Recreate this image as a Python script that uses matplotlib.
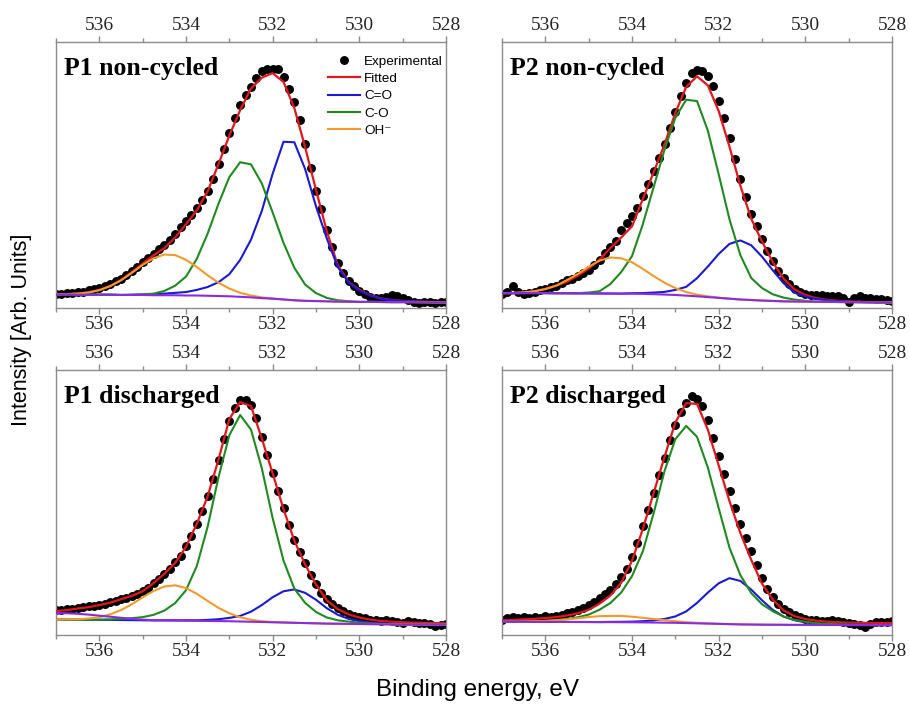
import numpy as np
import matplotlib.pyplot as plt
from matplotlib.ticker import MultipleLocator

# binding energy grids (eV), high -> low
energy = np.arange(537.0, 527.99, -0.25)      # fitted curves
energy_exp = np.arange(537.0, 527.99, -0.125)  # measured points

# ---- P1 non-cycled ----
p1_nc_exp = [5.2, 5.4, 5.6, 5.5, 5.9, 6.0, 6.6, 7.2, 7.6, 8.2,
             8.9, 10.0, 11.0, 12.4, 14.0, 15.6, 17.2, 18.8, 20.4, 22.0,
             23.6, 25.6, 28.0, 30.4, 32.8, 35.0, 37.6, 40.5, 44.0, 48.6,
             54.0, 59.8, 65.8, 71.5, 76.2, 80.0, 83.0, 86.4, 89.0, 89.9,
             90.0, 89.8, 87.0, 82.5, 77.5, 70.8, 61.5, 52.8, 44.0, 37.2,
             29.5, 22.8, 17.0, 13.0, 10.0, 8.2, 6.4, 5.3, 4.3, 3.7,
             3.6, 4.2, 4.8, 4.6, 3.9, 3.0, 2.4, 2.0, 2.1, 2.4,
             2.0, 2.3, 2.4]
p1_nc_fit = [5.0, 5.2, 5.5, 5.9, 6.8, 8.3, 10.5, 13.5, 16.7, 19.8, 22.5, 26.5, 31.5,
             36.7, 43.9, 54.1, 64.8, 74.4, 82.5, 86.6, 88.3, 85.0, 75.2, 60.4, 44.4,
             28.8, 16.2, 9.8, 6.9, 4.8, 3.6, 3.0, 2.7, 2.5, 2.35, 2.25, 2.2]
p1_nc_ceq = [5.1, 5.1, 5.0, 5.0, 5.0, 5.0, 4.9, 5.0, 5.1, 5.2, 5.4, 5.7, 6.0,
             6.8, 7.9, 9.7, 12.7, 18.1, 25.7, 36.5, 50.5, 62.5, 62.3, 52.2, 38.2,
             26.1, 15.5, 9.6, 6.6, 4.6, 3.5, 2.9, 2.6, 2.45, 2.3, 2.2, 2.15]
p1_nc_co = [5.1, 5.1, 5.0, 5.0, 5.0, 5.0, 4.9, 4.9, 5.1, 5.4, 6.4, 8.4, 11.8,
            18.5, 28.0, 39.2, 49.2, 54.8, 54.0, 46.8, 35.9, 24.5, 15.1, 8.8, 5.6,
            3.8, 2.9, 2.55, 2.3, 2.3, 2.25, 2.2, 2.2, 2.2, 2.15, 2.1, 2.1]
p1_nc_oh = [5.2, 5.2, 5.4, 5.8, 6.7, 8.2, 10.4, 13.2, 16.2, 18.7, 20.1, 19.9, 18.1,
            15.4, 12.3, 9.5, 7.3, 5.7, 4.7, 4.0, 3.6, 3.2, 2.9, 2.7, 2.6,
            2.5, 2.4, 2.35, 2.3, 2.3, 2.25, 2.2, 2.2, 2.2, 2.15, 2.1, 2.1]
p1_nc_bg = [5.1, 5.1, 5.0, 5.0, 5.0, 5.0, 4.9, 4.9, 4.9, 4.8, 4.8, 4.8, 4.7,
            4.7, 4.6, 4.5, 4.4, 4.2, 4.0, 3.7, 3.5, 3.2, 2.9, 2.7, 2.6,
            2.5, 2.4, 2.35, 2.3, 2.3, 2.25, 2.2, 2.2, 2.2, 2.15, 2.1, 2.1]

# ---- P2 non-cycled ----
p2_nc_exp = [5.3, 6.2, 8.3, 6.0, 5.3, 5.7, 6.2, 6.6, 7.2, 7.8,
             8.2, 9.4, 10.4, 11.0, 12.0, 13.2, 14.4, 16.2, 18.0, 20.6,
             22.8, 25.3, 29.5, 32.0, 34.5, 37.5, 42.0, 46.5, 51.5, 56.4,
             61.5, 67.8, 73.8, 79.6, 84.6, 88.4, 89.6, 89.0, 87.4, 83.3,
             78.0, 71.4, 64.0, 56.0, 48.5, 41.9, 35.5, 31.0, 26.0, 21.3,
             17.5, 14.0, 11.3, 9.0, 7.3, 6.2, 5.4, 5.0, 4.9, 4.8,
             4.4, 4.6, 4.4, 3.6, 2.2, 3.7, 4.6, 3.8, 3.7, 3.5,
             3.4, 3.0, 2.6]
p2_nc_fit = [5.5, 5.55, 5.65, 6.3, 7.2, 8.4, 9.9, 12.2, 14.8, 18.2, 22.5, 26.5, 30.7,
             41.0, 51.0, 61.5, 73.3, 83.1, 87.1, 83.7, 74.1, 60.6, 46.0, 33.6, 25.0,
             17.2, 11.0, 7.0, 4.9, 3.7, 3.1, 2.7, 2.5, 2.3, 2.2, 2.15, 2.1]
p2_nc_ceq = [5.6, 5.6, 5.6, 5.6, 5.6, 5.55, 5.55, 5.5, 5.5, 5.45, 5.45, 5.4, 5.55,
             5.6, 5.8, 6.05, 6.8, 7.95, 11.2, 15.6, 20.3, 24.1, 25.4, 23.6, 19.3,
             14.15, 9.3, 5.75, 4.3, 3.35, 2.9, 2.55, 2.35, 2.2, 2.15, 2.1, 2.1]
p2_nc_co = [5.6, 5.6, 5.6, 5.6, 5.6, 5.55, 5.55, 5.6, 5.8, 6.3, 9.0, 13.5, 19.5,
            31.5, 45.5, 59.5, 71.5, 78.3, 77.8, 66.7, 50.3, 33.3, 19.9, 11.3, 7.5,
            5.15, 3.9, 3.15, 2.7, 2.35, 2.3, 2.25, 2.2, 2.2, 2.15, 2.1, 2.1]
p2_nc_oh = [5.6, 5.7, 5.9, 6.3, 7.1, 8.4, 10.5, 12.8, 15.5, 17.8, 19.0, 18.7, 17.2,
            14.7, 12.0, 9.5, 7.5, 6.0, 5.0, 4.4, 3.9, 3.5, 3.2, 3.0, 2.8,
            2.65, 2.5, 2.45, 2.4, 2.35, 2.3, 2.25, 2.2, 2.2, 2.15, 2.1, 2.1]
p2_nc_bg = [5.6, 5.6, 5.6, 5.6, 5.6, 5.55, 5.55, 5.5, 5.5, 5.45, 5.45, 5.4, 5.4,
            5.3, 5.2, 5.05, 4.9, 4.65, 4.4, 4.1, 3.8, 3.5, 3.2, 3.0, 2.8,
            2.65, 2.5, 2.45, 2.4, 2.35, 2.3, 2.25, 2.2, 2.2, 2.15, 2.1, 2.1]

# ---- P1 discharged ----
p1_dc_exp = [9.4, 9.6, 9.8, 10.0, 10.2, 10.5, 10.8, 11.0, 11.5, 11.8,
             12.4, 13.0, 13.5, 14.0, 14.7, 15.5, 16.6, 17.8, 19.5, 21.3,
             23.2, 25.0, 27.5, 30.0, 33.5, 37.3, 41.8, 46.8, 52.5, 58.8,
             66.0, 73.8, 80.8, 85.7, 88.5, 88.8, 86.8, 81.8, 74.8, 67.8,
             61.2, 54.5, 47.9, 41.5, 35.8, 31.2, 27.0, 22.5, 19.2, 16.0,
             13.6, 11.6, 10.3, 9.0, 8.1, 7.3, 6.8, 6.5, 5.6, 5.8,
             5.2, 5.6, 5.3, 4.8, 4.7, 5.1, 4.9, 4.4, 4.6, 4.0,
             3.4, 3.6, 4.2]
p1_dc_fit = [9.0, 9.4, 10.0, 10.5, 11.3, 12.2, 13.5, 14.8, 16.5, 19.6, 23.1, 27.2, 33.3,
             42.0, 52.3, 66.2, 81.5, 87.9, 86.4, 74.1, 61.0, 47.5, 35.6, 26.6, 19.0,
             13.1, 9.8, 7.8, 6.6, 5.8, 5.3, 5.0, 4.8, 4.7, 4.6, 4.5, 4.4]
p1_dc_ceq = [5.8, 5.8, 5.75, 5.75, 5.7, 5.7, 5.65, 5.6, 5.55, 5.5, 5.55, 5.55, 5.55,
             5.55, 5.7, 5.95, 6.45, 7.2, 8.8, 11.3, 14.25, 16.5, 17.2, 15.9, 13.3,
             10.1, 7.65, 6.1, 5.25, 4.7, 4.4, 4.2, 4.13, 4.03, 3.9, 3.9, 3.9]
p1_dc_co = [5.8, 5.8, 5.75, 5.75, 5.8, 5.9, 6.1, 6.35, 6.75, 7.6, 9.2, 12.05, 16.9,
            26.05, 40.9, 59.55, 75.4, 83.0, 77.5, 62.9, 44.1, 28.1, 17.5, 12.1, 8.7,
            6.6, 5.55, 5.06, 4.65, 4.4, 4.25, 4.1, 4.0, 3.95, 3.9, 3.9, 3.9]
p1_dc_oh = [5.8, 5.9, 5.9, 6.2, 6.7, 7.8, 9.4, 11.6, 14.2, 16.6, 18.3, 18.75, 17.7,
            15.55, 12.85, 10.25, 8.2, 6.7, 5.75, 5.2, 4.9, 4.75, 4.6, 4.5, 4.4,
            4.3, 4.25, 4.2, 4.15, 4.1, 4.05, 4.0, 4.0, 3.95, 3.9, 3.9, 3.9]
p1_dc_bg = [8.3, 8.2, 8.0, 7.7, 7.3, 6.9, 6.5, 6.1, 5.8, 5.6, 5.5, 5.45, 5.4,
            5.35, 5.3, 5.25, 5.2, 5.1, 5.0, 4.9, 4.8, 4.7, 4.6, 4.5, 4.4,
            4.3, 4.25, 4.2, 4.15, 4.1, 4.05, 4.0, 4.0, 3.95, 3.9, 3.9, 3.9]

# ---- P2 discharged ----
p2_dc_exp = [5.8, 6.6, 6.9, 6.3, 6.8, 6.6, 6.8, 6.4, 7.0, 6.9,
             7.3, 7.6, 8.2, 8.8, 9.6, 10.2, 11.3, 12.4, 13.8, 15.3,
             17.0, 19.4, 21.8, 25.0, 29.6, 34.8, 41.0, 47.3, 53.7, 60.2,
             66.8, 73.5, 79.4, 84.0, 87.7, 90.2, 89.2, 86.6, 81.0, 74.5,
             67.5, 60.8, 54.2, 47.9, 42.0, 36.7, 31.6, 26.4, 21.4, 17.4,
             14.3, 11.8, 10.0, 8.6, 7.6, 6.8, 6.1, 5.7, 5.5, 5.3,
             5.4, 5.8, 5.2, 4.9, 4.6, 4.3, 3.9, 3.2, 4.2, 4.8,
             4.9, 5.0, 5.4]
p2_dc_fit = [5.5, 5.7, 5.9, 6.1, 6.4, 6.75, 7.35, 8.2, 9.5, 11.8, 14.9, 19.7, 28.0,
             40.0, 53.6, 67.2, 80.2, 87.5, 87.2, 77.5, 64.0, 50.5, 38.5, 28.4, 19.4,
             13.3, 9.3, 7.1, 6.0, 5.4, 5.05, 4.85, 4.65, 4.6, 4.55, 4.5, 4.5]
p2_dc_ceq = [5.0, 5.0, 4.98, 4.96, 4.95, 4.94, 4.92, 4.91, 4.9, 4.87, 4.95, 4.98, 5.05,
             5.2, 5.5, 6.05, 7.0, 8.9, 12.1, 16.0, 19.5, 21.45, 20.4, 17.15, 13.1,
             9.47, 6.95, 5.57, 4.77, 4.34, 4.08, 3.96, 3.87, 3.83, 3.8, 3.75, 3.75]
p2_dc_co = [5.0, 5.0, 5.1, 5.15, 5.35, 5.6, 6.0, 6.7, 7.7, 9.55, 12.05, 16.0, 22.2,
            31.55, 46.0, 61.85, 73.9, 78.9, 74.8, 63.2, 47.9, 32.9, 22.6, 15.85, 11.6,
            8.97, 6.95, 5.72, 5.0, 4.49, 4.23, 4.07, 3.95, 3.85, 3.75, 3.75, 3.75]
p2_dc_oh = [5.0, 5.05, 5.1, 5.2, 5.3, 5.6, 5.9, 6.3, 6.8, 7.1, 7.2, 7.2, 6.9,
            6.5, 6.05, 5.6, 5.2, 4.85, 4.6, 4.4, 4.25, 4.1, 4.0, 3.95, 3.9,
            3.87, 3.85, 3.82, 3.8, 3.79, 3.78, 3.77, 3.75, 3.75, 3.75, 3.75, 3.75]
p2_dc_bg = [5.0, 5.0, 4.98, 4.96, 4.95, 4.94, 4.92, 4.91, 4.9, 4.87, 4.85, 4.82, 4.8,
            4.75, 4.7, 4.65, 4.6, 4.5, 4.4, 4.3, 4.2, 4.1, 4.0, 3.95, 3.9,
            3.87, 3.85, 3.82, 3.8, 3.79, 3.78, 3.77, 3.75, 3.75, 3.75, 3.75, 3.75]

RED = '#e3161d'
BLUE = '#1a1ad6'
GREEN = '#1f8a1f'
ORANGE = '#f39a2a'
PURPLE = '#8a2be2'
SPINE = '#8c8c8c'


def draw_panel(ax, title, exp, fit, ceq, co, oh, bg, legend=False):
    dots, = ax.plot(energy_exp, exp, 'o', color='black', ms=5.4, zorder=2, label='Experimental')
    l_fit, = ax.plot(energy, fit, color=RED, lw=1.6, zorder=3, label='Fitted')
    l_ceq, = ax.plot(energy, ceq, color=BLUE, lw=1.5, zorder=4, label='C=O')
    l_co, = ax.plot(energy, co, color=GREEN, lw=1.5, zorder=4, label='C-O')
    l_oh, = ax.plot(energy, oh, color=ORANGE, lw=1.5, zorder=4, label='OH\u207b')
    ax.plot(energy, bg, color=PURPLE, lw=1.5, zorder=5)

    ax.set_xlim(537, 528)
    ax.set_ylim(0, 100)
    ax.set_yticks([])
    ax.xaxis.set_major_locator(MultipleLocator(2))
    ax.xaxis.set_minor_locator(MultipleLocator(1))
    ax.tick_params(axis='x', which='both', direction='out', top=True, bottom=True,
                   labeltop=True, labelbottom=True, color=SPINE, labelcolor='#262626',
                   labelsize=14, pad=2)
    ax.tick_params(axis='x', which='major', length=4, width=1)
    ax.tick_params(axis='x', which='minor', length=3, width=1)
    for lab in ax.get_xticklabels():
        lab.set_family('Liberation Serif')
    for sp in ax.spines.values():
        sp.set_color(SPINE)
        sp.set_linewidth(1.0)

    ax.text(0.02, 0.875, title, transform=ax.transAxes, fontsize=18.5,
            fontweight='bold', family='Liberation Serif', va='baseline')

    if legend:
        ax.legend(handles=[dots, l_fit, l_ceq, l_co, l_oh], loc='upper left',
                  bbox_to_anchor=(0.68, 0.975), frameon=False, borderpad=0,
                  handlelength=2.4, handletextpad=0.3, labelspacing=0.36,
                  numpoints=1, prop={'family': ['Liberation Sans', 'DejaVu Sans'], 'size': 9.7})


fig = plt.figure(figsize=(9.1, 7.06), dpi=100)
W, H = 910, 706
ax_tl = fig.add_axes([56 / W, 1 - 308 / H, 390 / W, 266 / H])
ax_tr = fig.add_axes([502 / W, 1 - 308 / H, 390 / W, 266 / H])
ax_bl = fig.add_axes([56 / W, 1 - 635 / H, 390 / W, 265 / H])
ax_br = fig.add_axes([502 / W, 1 - 635 / H, 390 / W, 265 / H])

draw_panel(ax_tl, 'P1 non-cycled', p1_nc_exp, p1_nc_fit, p1_nc_ceq, p1_nc_co, p1_nc_oh, p1_nc_bg, legend=True)
draw_panel(ax_tr, 'P2 non-cycled', p2_nc_exp, p2_nc_fit, p2_nc_ceq, p2_nc_co, p2_nc_oh, p2_nc_bg)
draw_panel(ax_bl, 'P1 discharged', p1_dc_exp, p1_dc_fit, p1_dc_ceq, p1_dc_co, p1_dc_oh, p1_dc_bg)
draw_panel(ax_br, 'P2 discharged', p2_dc_exp, p2_dc_fit, p2_dc_ceq, p2_dc_co, p2_dc_oh, p2_dc_bg)

fig.text(478 / W, 1 - 690 / H, 'Binding energy, eV', ha='center', va='center',
         fontsize=17.5, family=['Liberation Sans Narrow', 'Liberation Sans'])
fig.text(22 / W, 1 - 330 / H, 'Intensity [Arb. Units]', ha='center', va='center',
         rotation=90, fontsize=15.5, family='Liberation Sans')

fig.savefig('out.png', dpi=100)
